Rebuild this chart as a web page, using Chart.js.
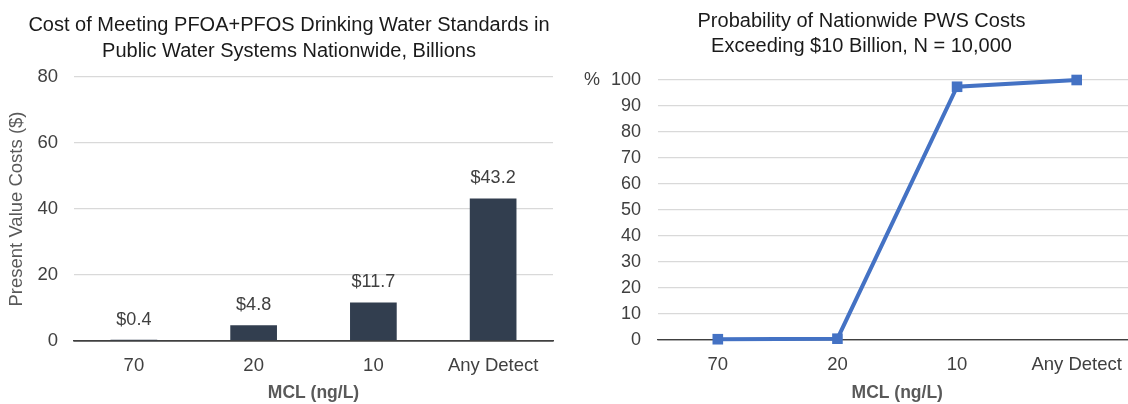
<!DOCTYPE html>
<html>
<head>
<meta charset="utf-8">
<script src="https://cdn.jsdelivr.net/npm/chart.js@4.4.1/dist/chart.umd.min.js"></script>
<style>
  html, body { margin: 0; padding: 0; background: #ffffff; width: 1128px; height: 404px; overflow: hidden; position: relative; }
  .title { position: absolute; text-align: center; font-family: "Liberation Sans", Arial, sans-serif; font-size: 20px; color: #1a1a1a; white-space: nowrap; }
  #leftTitle { left: 0px; width: 578px; top: 11px; line-height: 26px; }
  #rightTitle { left: 561.5px; width: 600px; top: 8px; line-height: 25px; }
  canvas { position: absolute; top: 0; display: block; }
  #costChart { left: 0px; }
  #probChart { left: 564px; }
</style>
</head>
<body>
<canvas id="costChart" width="564" height="404"></canvas>
<canvas id="probChart" width="580" height="404"></canvas>
<div class="title" id="leftTitle">Cost of Meeting PFOA+PFOS Drinking Water Standards in<br>Public Water Systems Nationwide, Billions</div>
<div class="title" id="rightTitle">Probability of Nationwide PWS Costs<br>Exceeding $10 Billion, N = 10,000</div>
<script>
// ---- Data ----
const categories = ['70', '20', '10', 'Any Detect'];
const costValues = [0.4, 4.8, 11.7, 43.2];            // $ billions
const probabilityValues = [0.3, 0.5, 97.4, 100];      // %
const costTickValues = [0, 20, 40, 60, 80];
const probTickValues = [0, 10, 20, 30, 40, 50, 60, 70, 80, 90, 100];
const xAxisTitle = 'MCL (ng/L)';
const costAxisTitle = 'Present Value Costs ($)';
const probUnitLabel = '%';

const FONT = '"Liberation Sans", Arial, sans-serif';
const TICK_COLOR = '#404040';
const GRID_COLOR = '#D9D9D9';
const AXIS_LINE = '#404040';

Chart.defaults.font.family = FONT;
Chart.defaults.color = TICK_COLOR;

const barLabelPlugin = {
  id: 'barLabels',
  afterDatasetsDraw(chart) {
    const ctx = chart.ctx;
    const meta = chart.getDatasetMeta(0);
    ctx.save();
    ctx.font = '18px ' + FONT;
    ctx.fillStyle = TICK_COLOR;
    ctx.textAlign = 'center';
    ctx.textBaseline = 'middle';
    meta.data.forEach((bar, i) => {
      ctx.fillText('$' + costValues[i].toFixed(1), bar.x, bar.y - 20);
    });
    ctx.restore();
  }
};

const percentPlugin = {
  id: 'percentUnit',
  afterDraw(chart) {
    const ctx = chart.ctx;
    const y = chart.scales.y;
    ctx.save();
    ctx.font = '18px ' + FONT;
    ctx.fillStyle = TICK_COLOR;
    ctx.textAlign = 'center';
    ctx.textBaseline = 'middle';
    ctx.fillText(probUnitLabel, 28, y.getPixelForValue(probTickValues[probTickValues.length - 1]));
    ctx.restore();
  }
};

function fixedTicks(values) {
  return function (scale) { scale.ticks = values.map(v => ({ value: v })); };
}

new Chart(document.getElementById('costChart'), {
  type: 'bar',
  data: {
    labels: categories,
    datasets: [{
      data: costValues,
      backgroundColor: '#323E4F',
      borderWidth: 0,
      categoryPercentage: 1.0,
      barPercentage: 0.39
    }]
  },
  options: {
    responsive: false,
    animation: false,
    devicePixelRatio: 1,
    layout: { padding: { top: 77, right: 11, bottom: 0, left: 0 } },
    plugins: { legend: { display: false }, tooltip: { enabled: false }, title: { display: false } },
    scales: {
      x: {
        afterFit(scale) { scale.height = 63; },
        grid: { display: false, drawTicks: false },
        border: { display: true, color: AXIS_LINE, width: 1.5 },
        ticks: { padding: 14, color: TICK_COLOR, font: { size: 18.5 } },
        title: { display: true, text: xAxisTitle, color: '#595959', font: { size: 17.5, weight: 'bold' }, padding: { top: 0, bottom: 0 } }
      },
      y: {
        min: costTickValues[0],
        max: costTickValues[costTickValues.length - 1],
        afterBuildTicks: fixedTicks(costTickValues),
        afterFit(scale) { scale.width = 74; },
        grid: {
          drawTicks: false,
          color: ctx => (ctx.tick && ctx.tick.value === 0) ? AXIS_LINE : GRID_COLOR,
          lineWidth: ctx => (ctx.tick && ctx.tick.value === 0) ? 1.5 : 1.2
        },
        border: { display: false },
        ticks: { padding: 16, color: TICK_COLOR, font: { size: 18.5 } },
        title: { display: true, text: costAxisTitle, color: '#595959', font: { size: 18.5 }, padding: { top: 6, bottom: 0 } }
      }
    }
  },
  plugins: [barLabelPlugin]
});

new Chart(document.getElementById('probChart'), {
  type: 'line',
  data: {
    labels: categories,
    datasets: [{
      data: probabilityValues,
      borderColor: '#4472C4',
      backgroundColor: '#4472C4',
      borderWidth: 4,
      pointStyle: 'rect',
      pointRadius: 7.5,
      pointBorderWidth: 0,
      tension: 0,
      clip: false
    }]
  },
  options: {
    responsive: false,
    animation: false,
    devicePixelRatio: 1,
    layout: { padding: { top: 80, right: 7, bottom: 0, left: 0 } },
    plugins: { legend: { display: false }, tooltip: { enabled: false }, title: { display: false } },
    scales: {
      x: {
        offset: true,
        afterFit(scale) { scale.height = 64; },
        grid: { display: false, drawTicks: false, offset: true },
        border: { display: true, color: AXIS_LINE, width: 1.2 },
        ticks: { padding: 14, color: TICK_COLOR, font: { size: 18.5 } },
        title: { display: true, text: xAxisTitle, color: '#595959', font: { size: 17.5, weight: 'bold' }, padding: { top: 0, bottom: 0 } }
      },
      y: {
        min: probTickValues[0],
        max: probTickValues[probTickValues.length - 1],
        afterBuildTicks: fixedTicks(probTickValues),
        afterFit(scale) { scale.width = 94; },
        grid: {
          drawTicks: false,
          color: ctx => (ctx.tick && ctx.tick.value === 0) ? AXIS_LINE : GRID_COLOR,
          lineWidth: ctx => (ctx.tick && ctx.tick.value === 0) ? 1.2 : 1.2
        },
        border: { display: false },
        ticks: { padding: 17, color: TICK_COLOR, font: { size: 18 } }
      }
    }
  },
  plugins: [percentPlugin]
});
</script>
</body>
</html>
